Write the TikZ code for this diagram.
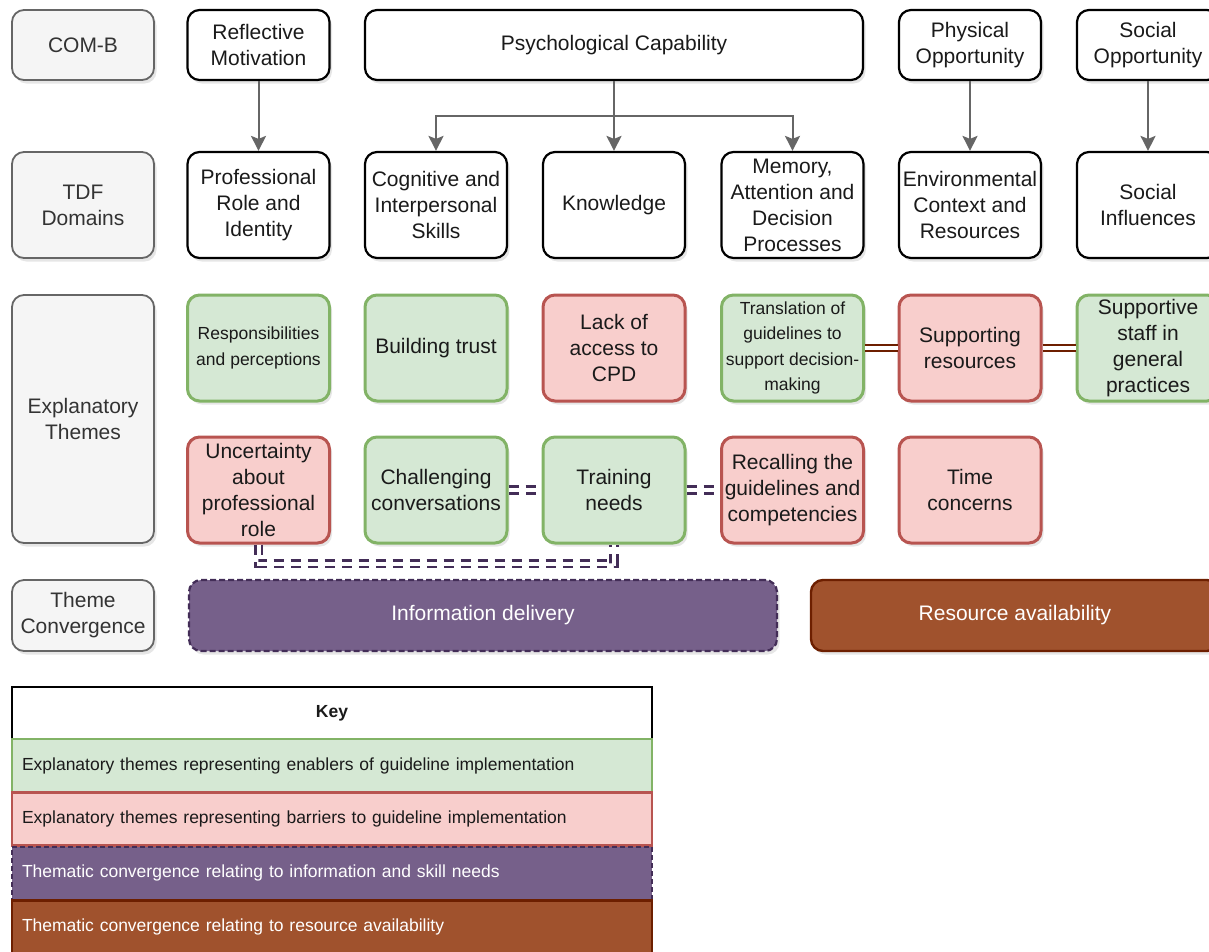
\documentclass[tikz,border=0pt]{standalone}
\usepackage{fontspec}
\setmainfont{Liberation Sans}
\usetikzlibrary{arrows.meta,shadows}

\definecolor{gfill}{HTML}{D5E8D4}
\definecolor{gline}{HTML}{82B366}
\definecolor{rfill}{HTML}{F8CECC}
\definecolor{rline}{HTML}{B85450}
\definecolor{pfill}{HTML}{76608A}
\definecolor{pline}{HTML}{432D57}
\definecolor{bfill}{HTML}{A0522D}
\definecolor{bline}{HTML}{6D1F00}
\definecolor{lfill}{HTML}{F5F5F5}
\definecolor{lline}{HTML}{666666}
\definecolor{txt}{HTML}{1A1A1A}
\definecolor{ltxt}{HTML}{333333}

\tikzset{
  shad/.style={drop shadow={opacity=0.2,shadow xshift=2.5pt,shadow yshift=-3.5pt}},
  box/.style={rounded corners=12pt, minimum width=142pt, align=center, inner sep=0pt,
    font=\fontsize{21}{26}\selectfont, text=txt, shad},
  small/.style={font=\fontsize{17.5}{25.5}\selectfont},
  lab/.style={box, fill=lfill, draw=lline, line width=1.8pt, text=ltxt},
  dom/.style={box, fill=white, draw=black, line width=2.2pt},
  enab/.style={box, fill=gfill, draw=gline, line width=3pt},
  barr/.style={box, fill=rfill, draw=rline, line width=3pt},
  short/.style={minimum height=70pt},
  tall/.style={minimum height=106pt},
  arr/.style={draw=lline, line width=2pt, -{Stealth[length=15pt,width=15pt,inset=3pt]}},
  dline/.style={draw=bline, line width=2.6pt, double=white, double distance=3.5pt},
  ddash/.style={draw=pline, line width=2.6pt, double=white, double distance=4pt, dash pattern=on 10pt off 7pt},
  keyrow/.style={rectangle, text width=620pt, inner xsep=10pt, inner ysep=0pt, minimum height=53pt,
    align=left, font=\fontsize{17.5}{21}\selectfont, text=txt}
}

\begin{document}
\begin{tikzpicture}[x=1pt,y=-1pt]
\useasboundingbox (0,0) rectangle (1209,951);

% row labels
\node[lab, short] (comb) at (83,45) {COM-B};
\node[lab, tall] (tdf) at (83,205) {TDF\\Domains};
\node[lab, minimum height=248pt] (expl) at (83,419) {Explanatory\\Themes};
\node[lab, minimum height=71pt] (conv) at (83,615.5) {Theme\\Convergence};

% COM-B row
\node[dom, short] (rm) at (258.5,45) {Reflective\\Motivation};
\node[dom, short, minimum width=498pt] (pc) at (614,45) {Psychological Capability};
\node[dom, short] (po) at (970,45) {Physical\\Opportunity};
\node[dom, short] (so) at (1148,45) {Social\\Opportunity};

% TDF row
\node[dom, tall] (pri) at (258.5,205) {Professional\\Role and\\Identity};
\node[dom, tall] (cis) at (436,205) {Cognitive and\\Interpersonal\\Skills};
\node[dom, tall] (kn) at (614,205) {Knowledge};
\node[dom, tall] (mad) at (792.5,205) {Memory,\\Attention and\\Decision\\Processes};
\node[dom, tall] (ecr) at (970,205) {Environmental\\Context and\\Resources};
\node[dom, tall] (si) at (1148,205) {Social\\Influences};

% Explanatory themes row 1
\node[enab, tall, small] (resp) at (258.5,348) {Responsibilities\\and perceptions};
\node[enab, tall] (trust) at (436,348) {Building trust};
\node[barr, tall] (lack) at (614,348) {Lack of\\access to\\CPD};
\node[enab, tall, small] (transl) at (792.5,348) {Translation of\\guidelines to\\support decision-\\making};
\node[barr, tall] (supres) at (970,348) {Supporting\\resources};
\node[enab, tall] (supstaff) at (1148,348) {Supportive\\staff in\\general\\practices};

% Explanatory themes row 2
\node[barr, tall] (unc) at (258.5,490) {Uncertainty\\about\\professional\\role};
\node[enab, tall] (chal) at (436,490) {Challenging\\conversations};
\node[enab, tall] (train) at (614,490) {Training\\needs};
\node[barr, tall] (recall) at (792.5,490) {Recalling the\\guidelines and\\competencies};
\node[barr, tall] (time) at (970,490) {Time\\concerns};

% Theme convergence
\node[box, minimum width=588pt, minimum height=71pt, fill=pfill, draw=pline, line width=2.2pt,
  dash pattern=on 6pt off 3pt, text=white] (info) at (483,615.5) {Information delivery};
\node[box, minimum width=408pt, minimum height=71pt, fill=bfill, draw=bline, line width=2.4pt,
  text=white] (resav) at (1015,615.5) {Resource availability};

% arrows
\coordinate (br) at (614,116);
\draw[arr] (rm) -- (pri);
\draw[arr] (pc) -- (kn);
\draw[arr] (br) -| (cis.north);
\draw[arr] (br) -| (mad.north);
\draw[arr] (po) -- (ecr);
\draw[arr] (so) -- (si);

% double lines
\draw[dline] (transl.east) -- (supres.west);
\draw[dline] (supres.east) -- (supstaff.west);

% dashed double lines
\draw[ddash] (chal.east) -- (train.west);
\draw[ddash] (train.east) -- (recall.west);
\draw[ddash] (unc.south) -- ++(0,19) -| (train.south);

% key
\node[keyrow, fill=white, draw=black, line width=2pt, align=center] (keyh) at (332,713) {\bfseries Key};
\node[keyrow, fill=gfill, draw=gline, line width=2.6pt] (kg) at (332,765.5) {Explanatory themes representing enablers of guideline implementation};
\node[keyrow, fill=rfill, draw=rline, line width=2.6pt] (kr) at (332,819) {Explanatory themes representing barriers to guideline implementation};
\node[keyrow, fill=pfill, draw=pline, line width=2pt, dash pattern=on 5pt off 3pt, text=white] (kp) at (332,873) {Thematic convergence relating to information and skill needs};
\node[keyrow, fill=bfill, draw=bline, line width=2.6pt, text=white] (kb) at (332,927) {Thematic convergence relating to resource availability};
\end{tikzpicture}
\end{document}
